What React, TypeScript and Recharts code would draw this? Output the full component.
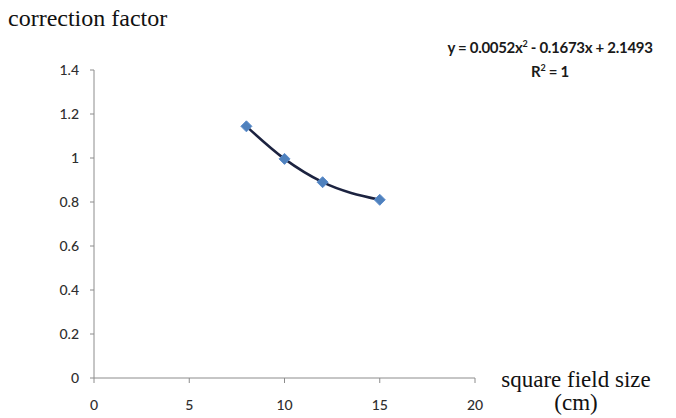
import React from 'react';
import { ComposedChart, Line, Scatter, XAxis, YAxis } from 'recharts';

// field size (cm) and measured correction factor
const fieldSizes = [8, 10, 12, 15];
const correctionFactors = [1.144, 0.996, 0.89, 0.81];

const xTicks = [0, 5, 10, 15, 20];
const yTicks = [0, 0.2, 0.4, 0.6, 0.8, 1, 1.2, 1.4];

const data = fieldSizes.map((x, i) => ({ x, y: correctionFactors[i] }));

const sans = 'Lato, "Open Sans", sans-serif';
const serif = '"Liberation Serif", "Times New Roman", serif';
const tickStyle = { fill: '#2e2e2e', fontSize: 14, fontFamily: sans, fontWeight: 500 };

// diamond marker, a square turned 45 degrees
const Diamond = (props: any) => {
  const { cx, cy } = props;
  const r = 5.5;
  return (
    <path
      d={`M${cx},${cy - r}L${cx + r},${cy}L${cx},${cy + r}L${cx - r},${cy}Z`}
      fill="#4f81bd"
      stroke="#5b8ccc"
      strokeWidth={1}
    />
  );
};

const App: React.FC = () => {
  return (
    <div style={{ position: 'absolute', left: 0, top: 0, width: 676, height: 418, background: '#fff' }}>
      <div style={{ position: 'absolute', left: 8, top: 5, fontFamily: serif, fontSize: 24, color: '#111' }}>
        correction factor
      </div>
      <div
        style={{
          position: 'absolute',
          left: 422,
          top: 32,
          width: 256,
          textAlign: 'center',
          fontFamily: sans,
          fontWeight: 700,
          fontSize: 15,
          lineHeight: '23px',
          color: '#1a1a1a',
          letterSpacing: -0.3,
        }}
      >
        <div>
          y = 0.0052x<sup style={{ fontSize: 9 }}>2</sup> - 0.1673x + 2.1493
        </div>
        <div style={{ marginTop: -3 }}>
          R<sup style={{ fontSize: 9 }}>2</sup> = 1
        </div>
      </div>
      <div
        style={{
          position: 'absolute',
          left: 488,
          top: 368,
          width: 176,
          textAlign: 'center',
          fontFamily: serif,
          fontSize: 23,
          lineHeight: '23px',
          color: '#111',
        }}
      >
        <div>square field size</div>
        <div>(cm)</div>
      </div>
      <ComposedChart
        width={676}
        height={418}
        data={data}
        margin={{ top: 70, right: 201, bottom: 10, left: 0 }}
      >
        <XAxis
          type="number"
          dataKey="x"
          domain={[0, 20]}
          ticks={xTicks}
          interval={0}
          height={30}
          stroke="#8c8c8c"
          tickSize={5}
          tickMargin={17}
          tick={tickStyle}
        />
        <YAxis
          type="number"
          domain={[0, 1.4]}
          ticks={yTicks}
          interval={0}
          width={94}
          stroke="#8c8c8c"
          tickSize={4}
          tickMargin={11}
          tick={tickStyle}
        />
        <Scatter dataKey="y" shape={<Diamond />} isAnimationActive={false} />
        <Line
          type="monotone"
          dataKey="y"
          stroke="#1c2340"
          strokeWidth={2.5}
          dot={false}
          isAnimationActive={false}
        />
      </ComposedChart>
    </div>
  );
};

export default App;
